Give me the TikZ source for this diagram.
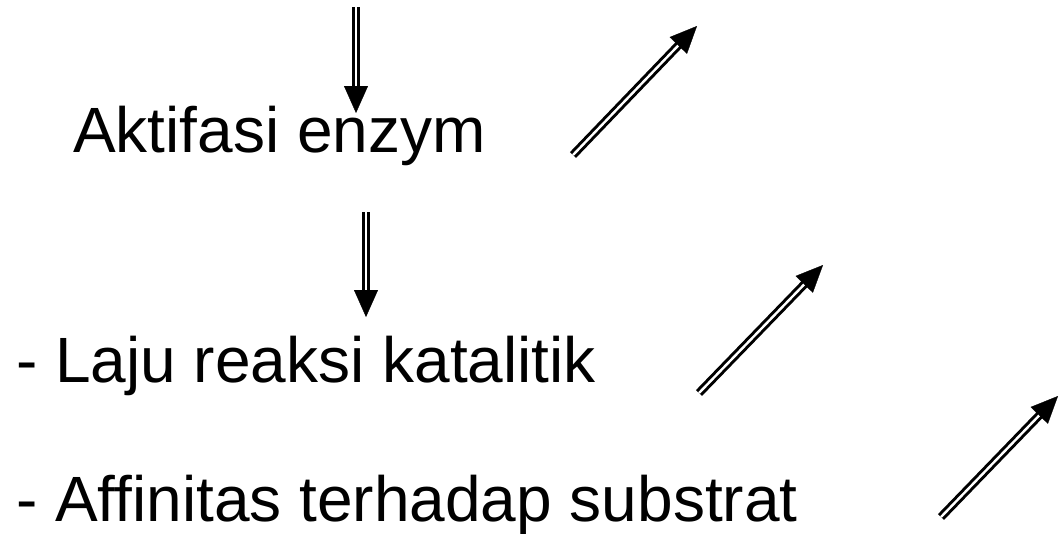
\documentclass[tikz,border=0pt]{standalone}
\usepackage{fontspec}
\setmainfont{Liberation Sans}
\usetikzlibrary{arrows.meta}
\begin{document}
\begin{tikzpicture}[x=1pt,y=1pt,
  txt/.style={inner sep=0pt, anchor=base west, font=\fontsize{64}{77}\selectfont},
  shaft/.style={draw=black, double=white, line width=3pt, double distance=2.4pt, shorten >=22pt},
  head/.style={draw=white, line width=0.3pt, -{Triangle[length=27pt,width=24pt,color=black,fill=black]}}]
\useasboundingbox (0,0) rectangle (1062,-533);
\node[txt] (t1) at (73,-152) {Aktifasi enzym};
\node[txt] (t2) at (16,-382) {- Laju reaksi katalitik};
\node[txt] (t3) at (16,-521) {- Affinitas terhadap substrat};
% vertical arrows
\coordinate (v1s) at (356,-7);   \coordinate (v1e) at (356,-113);
\coordinate (v2s) at (366,-212); \coordinate (v2e) at (366,-317);
% diagonal arrows
\coordinate (d1s) at (573,-155); \coordinate (d1e) at (697,-26);
\coordinate (d2s) at (699,-393); \coordinate (d2e) at (823,-265);
\coordinate (d3s) at (941,-517); \coordinate (d3e) at (1058,-396);
\foreach \a in {v1,v2,d1,d2,d3}{
  \draw[shaft] (\a s) -- (\a e);
  \draw[head] (\a s) -- (\a e);
}
\end{tikzpicture}
\end{document}
